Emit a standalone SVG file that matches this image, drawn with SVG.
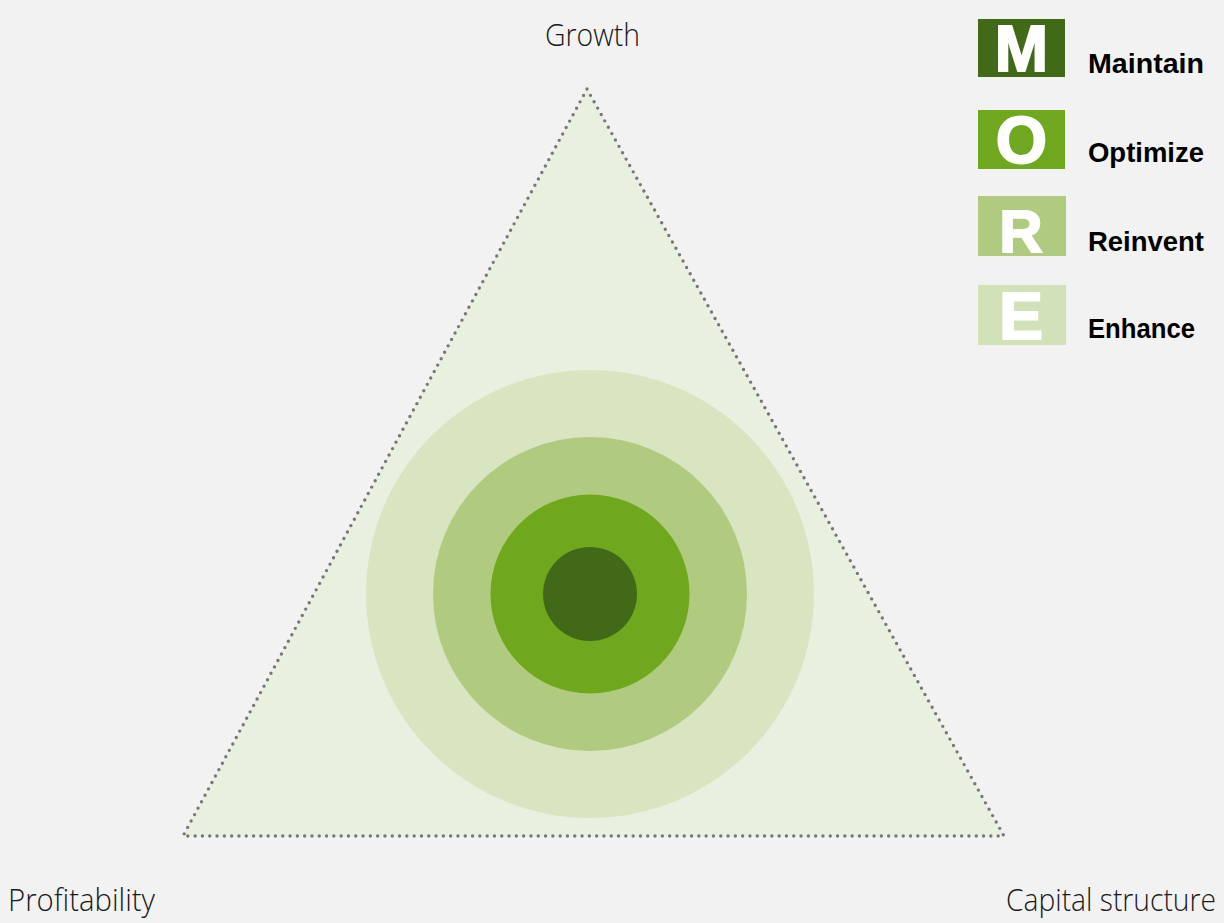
<svg xmlns="http://www.w3.org/2000/svg" width="1224" height="923" viewBox="0 0 1224 923">
<style>
.axis{font-family:"Open Sans","Liberation Sans",sans-serif;font-weight:300;font-size:31px;fill:#1a1a1a}
.lbl{font-family:"Liberation Sans",sans-serif;font-weight:bold;font-size:28px;fill:#000}
.let{font-family:"Liberation Sans",sans-serif;font-weight:bold;fill:#fff;text-anchor:middle;stroke:#fff;stroke-width:2}
</style>
<rect width="1224" height="923" fill="#f2f2f2"/>
<g id="triangle">
<polygon points="587,89 183,836 1004,836" fill="#eaf0e0" stroke="#777" stroke-width="3.4" stroke-dasharray="0 7.3" stroke-linecap="round"/>
</g>
<g id="rings">
<circle cx="590" cy="594" r="224" fill="#d9e4c1"/>
<circle cx="590" cy="594" r="157" fill="#b0ca7f"/>
<circle cx="590" cy="594" r="99.5" fill="#6fa81e"/>
<circle cx="590" cy="594" r="47" fill="#416917"/>
</g>
<g id="axis-labels">
<text class="axis" x="545" y="46" textLength="95" lengthAdjust="spacingAndGlyphs">Growth</text>
<text class="axis" x="8" y="911" textLength="147" lengthAdjust="spacingAndGlyphs">Profitability</text>
<text class="axis" x="1006" y="911" textLength="210" lengthAdjust="spacingAndGlyphs">Capital structure</text>
</g>
<g id="legend-M">
<rect x="978" y="19" width="87" height="58" fill="#416917"/>
<text class="let" x="1021.5" y="71" font-size="64">M</text>
<text class="lbl" x="1088" y="73" textLength="116" lengthAdjust="spacingAndGlyphs">Maintain</text>
</g>
<g id="legend-O">
<rect x="978" y="110" width="87" height="59" fill="#6fa81e"/>
<text class="let" x="1021.5" y="163" font-size="66">O</text>
<text class="lbl" x="1088" y="162" textLength="116" lengthAdjust="spacingAndGlyphs">Optimize</text>
</g>
<g id="legend-R">
<rect x="978" y="196" width="88" height="60" fill="#b0ca7f"/>
<text class="let" x="1021" y="252" font-size="60">R</text>
<text class="lbl" x="1088" y="251" textLength="116" lengthAdjust="spacingAndGlyphs">Reinvent</text>
</g>
<g id="legend-E">
<rect x="978" y="285" width="88" height="60" fill="#d3e1b8"/>
<text class="let" x="1021" y="339" font-size="66">E</text>
<text class="lbl" x="1088" y="338" textLength="107" lengthAdjust="spacingAndGlyphs">Enhance</text>
</g>
</svg>
